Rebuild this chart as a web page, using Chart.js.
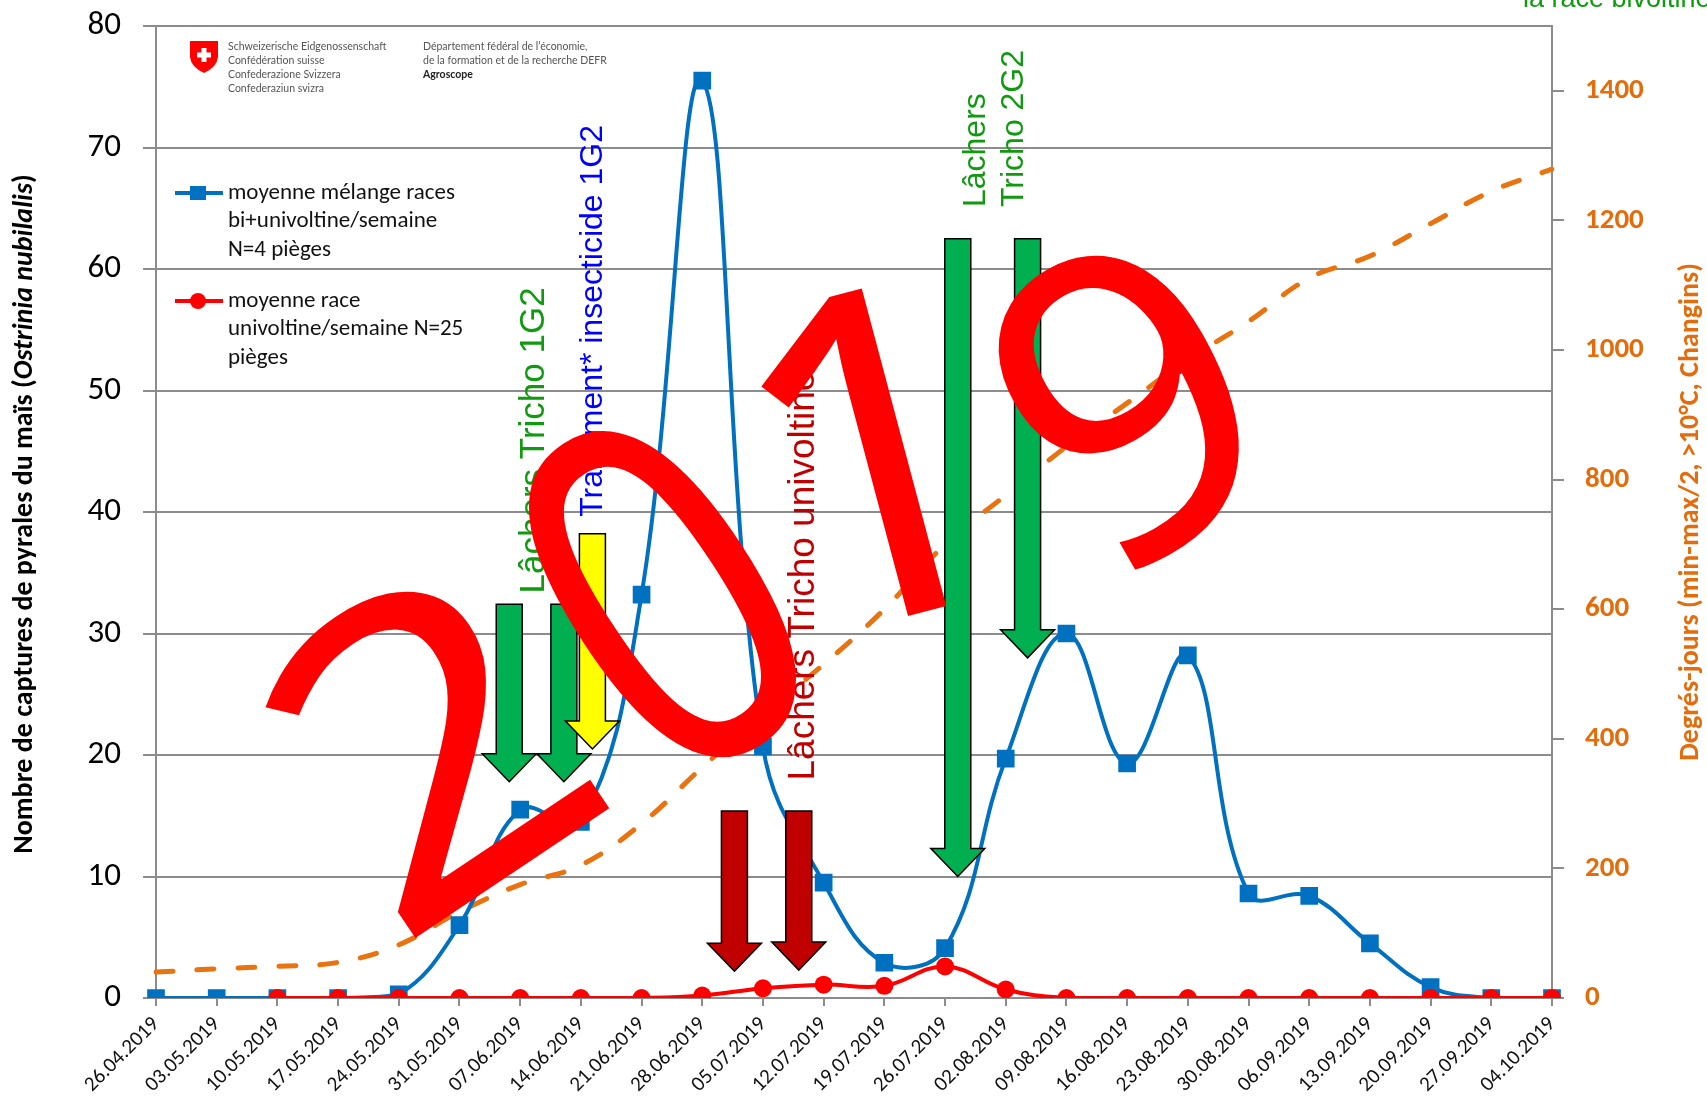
<!DOCTYPE html>
<html>
<head>
<meta charset="utf-8">
<script src="https://cdn.jsdelivr.net/npm/chart.js@4.4.1/dist/chart.umd.min.js"></script>
<style>
  html, body { margin: 0; padding: 0; background: #fff; }
</style>
</head>
<body>
<canvas id="c" width="1707" height="1110"></canvas>
<script>
// weekly trap dates
const weeks = ['26.04.2019', '03.05.2019', '10.05.2019', '17.05.2019', '24.05.2019', '31.05.2019',
  '07.06.2019', '14.06.2019', '21.06.2019', '28.06.2019', '05.07.2019', '12.07.2019',
  '19.07.2019', '26.07.2019', '02.08.2019', '09.08.2019', '16.08.2019', '23.08.2019',
  '30.08.2019', '06.09.2019', '13.09.2019', '20.09.2019', '27.09.2019', '04.10.2019'];

// captures per week (left axis)
const mixedRaces = [0, 0, 0, 0, 0.3, 6, 15.5, 14.5, 33.2, 75.5, 20.7, 9.5,
  2.9, 4.1, 19.7, 30, 19.3, 28.2, 8.6, 8.4, 4.5, 0.9, 0, 0];
const univoltine = [null, null, 0, 0, 0, 0, 0, 0, 0, 0.2, 0.8, 1.1,
  1.0, 2.6, 0.7, 0, 0, 0, 0, 0, 0, 0, 0, 0];

// degree-days (right axis)
const degreeDays = [40, 45, 49, 55, 82, 133, 175, 205, 269, 356, 438, 515,
  600, 700, 776, 851, 918, 985, 1044, 1111, 1145, 1195, 1245, 1279];

const leftMax = 80, leftStep = 10;
const rightMax = 1500, rightStep = 200;

// treatment arrows: position as (fractional) week index, from/to in captures
const arrows = [
  { at: 5.82, from: 32.4, to: 17.8, color: '#00B050' },
  { at: 6.72, from: 32.4, to: 17.8, color: '#00B050' },
  { at: 7.19, from: 38.2, to: 20.5, color: '#FFFF00' },
  { at: 9.53, from: 15.4, to: 2.2, color: '#C00000' },
  { at: 10.59, from: 15.4, to: 2.3, color: '#C00000' },
  { at: 13.21, from: 62.5, to: 10.0, color: '#00B050' },
  { at: 14.36, from: 62.5, to: 28.0, color: '#00B050' }
];

// vertical notes
const notes = [
  { text: 'Lâchers Tricho 1G2', at: 6.23, from: 33.3, size: 35, color: '#109A10' },
  { text: 'Traitement* insecticide 1G2', at: 7.21, from: 39.6, size: 32, color: '#0000FF' },
  { text: 'Lâchers Tricho univoltine', at: 10.68, from: 17.9, size: 37, color: '#C00000' },
  { text: 'Lâchers', at: 13.51, from: 65.1, size: 32, color: '#109A10' },
  { text: 'Tricho 2G2', at: 14.14, from: 65.1, size: 32, color: '#109A10' }
];

const legendBlue = ['moyenne mélange races', 'bi+univoltine/semaine', 'N=4 pièges'];
const legendRed = ['moyenne race', 'univoltine/semaine N=25', 'pièges'];

const BASE = 'Carlito, Lato, sans-serif';
const ARIAL = '"Liberation Sans", Arial, sans-serif';
const ORANGE = '#E46C0A';
const GRID = '#8C8C8C';

function drawArrow(ctx, x, yTop, yTip, color) {
  const bw = 13, hw = 27, hl = 28;
  ctx.beginPath();
  ctx.moveTo(x - bw, yTop);
  ctx.lineTo(x + bw, yTop);
  ctx.lineTo(x + bw, yTip - hl);
  ctx.lineTo(x + hw, yTip - hl);
  ctx.lineTo(x, yTip);
  ctx.lineTo(x - hw, yTip - hl);
  ctx.lineTo(x - bw, yTip - hl);
  ctx.closePath();
  ctx.fillStyle = color;
  ctx.fill();
  ctx.lineWidth = 1.5;
  ctx.strokeStyle = '#000';
  ctx.stroke();
}

const extras = {
  id: 'extras',
  afterDatasetsDraw(chart) {
    const { ctx, scales: { x, y } } = chart;
    ctx.save();
    arrows.forEach(a => {
      drawArrow(ctx, x.getPixelForValue(a.at), y.getPixelForValue(a.from), y.getPixelForValue(a.to), a.color);
    });
    ctx.textAlign = 'left';
    ctx.textBaseline = 'middle';
    notes.forEach(n => {
      ctx.save();
      ctx.font = n.size + 'px ' + ARIAL;
      ctx.translate(x.getPixelForValue(n.at), y.getPixelForValue(n.from));
      ctx.rotate(-Math.PI / 2);
      ctx.fillStyle = n.color;
      ctx.fillText(n.text, 0, 0);
      ctx.restore();
    });
    ctx.restore();
  },
  afterDraw(chart) {
    const { ctx } = chart;
    ctx.save();

    // logo
    ctx.fillStyle = '#FF0000';
    ctx.beginPath();
    ctx.moveTo(190, 41);
    ctx.lineTo(218, 41);
    ctx.lineTo(218, 57);
    ctx.quadraticCurveTo(217, 67, 204, 73);
    ctx.quadraticCurveTo(191, 67, 190, 57);
    ctx.closePath();
    ctx.fill();
    ctx.fillStyle = '#fff';
    ctx.fillRect(201.5, 48, 5, 14);
    ctx.fillRect(197, 52.5, 14, 5);
    ctx.fillStyle = '#555';
    ctx.font = '10.5px Lato, sans-serif';
    ctx.textBaseline = 'middle';
    ctx.textAlign = 'left';
    ['Schweizerische Eidgenossenschaft', 'Confédération suisse', 'Confederazione Svizzera', 'Confederaziun svizra']
      .forEach((t, i) => ctx.fillText(t, 228, 47 + i * 14));
    ctx.fillText('Département fédéral de l\u2019économie,', 423, 47);
    ctx.fillText('de la formation et de la recherche DEFR', 423, 61);
    ctx.font = 'bold 10.5px Lato, sans-serif';
    ctx.fillStyle = '#222';
    ctx.fillText('Agroscope', 423, 75);

    // legend
    const ds = chart.data.datasets;
    const entries = [
      { d: ds[1], lines: legendBlue, y: 193 },
      { d: ds[0], lines: legendRed, y: 301 }
    ];
    entries.forEach(e => {
      ctx.strokeStyle = e.d.borderColor;
      ctx.lineWidth = 4;
      ctx.beginPath();
      ctx.moveTo(175, e.y);
      ctx.lineTo(223, e.y);
      ctx.stroke();
      ctx.fillStyle = e.d.borderColor;
      if (e.d.pointStyle === 'rect') {
        ctx.fillRect(190, e.y - 7, 16, 14);
      } else {
        ctx.beginPath();
        ctx.arc(198, e.y, 8, 0, Math.PI * 2);
        ctx.fill();
      }
      ctx.fillStyle = '#111';
      ctx.font = '23px ' + BASE;
      e.lines.forEach((t, i) => ctx.fillText(t, 228, e.y + i * 28.5));
    });

    // left axis title with italic species name
    const parts = [
      { t: 'Nombre de captures de pyrales du maïs (', f: 'bold 28px ' + BASE },
      { t: 'Ostrinia nubilalis', f: 'italic bold 28px ' + BASE },
      { t: ')', f: 'bold 28px ' + BASE }
    ];
    let total = 0;
    parts.forEach(p => { ctx.font = p.f; p.w = ctx.measureText(p.t).width; total += p.w; });
    ctx.save();
    ctx.translate(25, 514);
    ctx.rotate(-Math.PI / 2);
    ctx.fillStyle = '#000';
    ctx.textAlign = 'left';
    ctx.textBaseline = 'middle';
    let px = -total / 2;
    parts.forEach(p => { ctx.font = p.f; ctx.fillText(p.t, px, 0); px += p.w; });
    ctx.restore();

    // right axis title
    ctx.save();
    ctx.translate(1691, 512);
    ctx.rotate(-Math.PI / 2);
    ctx.fillStyle = ORANGE;
    ctx.textAlign = 'center';
    ctx.textBaseline = 'middle';
    ctx.font = 'bold 28px ' + BASE;
    ctx.fillText('Degrés-jours (min-max/2, >10°C, Changins)', 0, 0);
    ctx.restore();

    // clipped caption at the top right
    ctx.fillStyle = '#109A10';
    ctx.font = '27px ' + ARIAL;
    ctx.textAlign = 'left';
    ctx.textBaseline = 'alphabetic';
    ctx.fillText('la race bivoltine', 1523, 7);

    // year stamp: char, centre x, centre y, rotation, size, horizontal stretch
    ctx.fillStyle = '#FF0000';
    ctx.textAlign = 'center';
    [['2', 427, 744, -0.59, 430, 1.15], ['0', 662, 593, -0.58, 490, 0.8],
     ['1', 873, 454, -0.26, 460, 1], ['9', 1127, 400, -0.52, 420, 1]]
      .forEach(([ch, cx, cy, r, F, sx]) => {
        ctx.save();
        ctx.font = F + 'px "Noto Sans", sans-serif';
        ctx.translate(cx, cy);
        ctx.rotate(r);
        ctx.scale(sx, 1);
        ctx.fillText(ch, 0, F * 0.36);
        ctx.restore();
      });
    ctx.restore();
  }
};

const trimPad = s => { s.paddingTop = 0; s.paddingBottom = 0; };

new Chart(document.getElementById('c'), {
  type: 'line',
  data: {
    labels: weeks,
    datasets: [
      {
        label: 'moyenne race univoltine/semaine N=25 pièges',
        data: univoltine,
        yAxisID: 'y',
        borderColor: '#FF0000',
        backgroundColor: '#FF0000',
        borderWidth: 4,
        pointStyle: 'circle',
        pointRadius: 9,
        pointBorderWidth: 0,
        tension: 0.4
      },
      {
        label: 'moyenne mélange races bi+univoltine/semaine N=4 pièges',
        data: mixedRaces,
        yAxisID: 'y',
        borderColor: '#0070C0',
        backgroundColor: '#0070C0',
        borderWidth: 4,
        pointStyle: 'rect',
        pointRadius: 12.5,
        pointBorderWidth: 0,
        tension: 0.4
      },
      {
        label: 'Degrés-jours',
        data: degreeDays,
        yAxisID: 'y1',
        borderColor: '#E8730F',
        borderWidth: 5,
        borderDash: [17, 24],
        borderCapStyle: 'round',
        pointRadius: 0,
        tension: 0.4
      }
    ]
  },
  options: {
    responsive: false,
    animation: false,
    layout: { padding: { top: 26, left: 0, right: 0, bottom: 0 } },
    plugins: {
      legend: { display: false },
      tooltip: { enabled: false }
    },
    scales: {
      x: {
        offset: false,
        grid: { display: true, drawOnChartArea: false, drawTicks: true, tickLength: 8, color: GRID, lineWidth: 2 },
        border: { display: true, color: GRID, width: 2 },
        ticks: {
          autoSkip: false, maxRotation: 45, minRotation: 45, padding: 6,
          color: '#111', font: { family: BASE, size: 21 }
        },
        afterFit: s => { s.height = 112; }
      },
      y: {
        position: 'left',
        min: 0, max: leftMax,
        grid: { color: GRID, lineWidth: 2, tickLength: 13 },
        border: { display: true, color: GRID, width: 2 },
        ticks: { stepSize: leftStep, padding: 22, color: '#000', font: { family: BASE, size: 33 } },
        afterFit: s => { s.width = 156; trimPad(s); }
      },
      y1: {
        position: 'right',
        min: 0, max: rightMax,
        grid: { drawOnChartArea: false, color: GRID, lineWidth: 2, tickLength: 12 },
        border: { display: true, color: GRID, width: 2 },
        ticks: {
          stepSize: rightStep, includeBounds: false, padding: 21, color: ORANGE,
          font: { family: BASE, size: 29, weight: 'bold' },
          callback: v => String(v)
        },
        afterFit: s => { s.width = 155; trimPad(s); }
      }
    }
  },
  plugins: [extras]
});
</script>
</body>
</html>
